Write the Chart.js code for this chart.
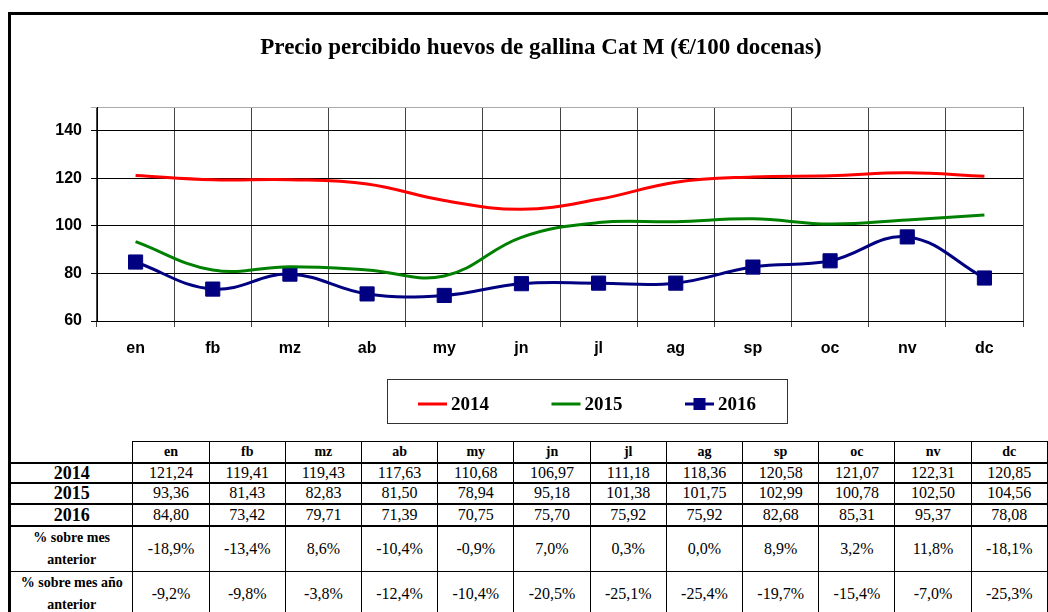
<!DOCTYPE html>
<html>
<head>
<meta charset="utf-8">
<script src="https://cdn.jsdelivr.net/npm/chart.js@4/dist/chart.umd.min.js"></script>
<style>
  body { margin: 0; width: 1048px; height: 612px; overflow: hidden; background: #fff; position: relative; }
  #frame { position: absolute; left: 8px; top: 12px; width: 1100px; height: 700px; border: 3px solid #000; }
  #wrap { position: absolute; left: 0; top: 0; width: 1048px; height: 440px; }
  #tabla { position: absolute; left: 10px; top: 441px; border-collapse: collapse; table-layout: fixed;
           font-family: "Liberation Serif", "Times New Roman", serif; color: #000; }
  #tabla td { border: 1px solid #000; text-align: center; padding: 0; font-size: 16px; line-height: 16px; }
  #tabla td.head { font-weight: bold; font-size: 14px; }
  #tabla td.lab { font-weight: bold; font-size: 18px; }
  #tabla td.lab2 { font-weight: bold; font-size: 14px; line-height: 22px; }
  #tabla td.blank { border-top: none; border-left: none; }
  #tabla tr.thick td { border-top: 2px solid #000; }
</style>
</head>
<body>
<div id="frame"></div>
<div id="wrap"><canvas id="grafico" width="1048" height="440"></canvas></div>
<table id="tabla"></table>
<script>
// Datos del gráfico
const meses = ['en', 'fb', 'mz', 'ab', 'my', 'jn', 'jl', 'ag', 'sp', 'oc', 'nv', 'dc'];
const precios2014 = [121.24, 119.41, 119.43, 117.63, 110.68, 106.97, 111.18, 118.36, 120.58, 121.07, 122.31, 120.85];
const precios2015 = [93.36, 81.43, 82.83, 81.50, 78.94, 95.18, 101.38, 101.75, 102.99, 100.78, 102.50, 104.56];
const precios2016 = [84.80, 73.42, 79.71, 71.39, 70.75, 75.70, 75.92, 75.92, 82.68, 85.31, 95.37, 78.08];
const pctMesAnterior = [-18.9, -13.4, 8.6, -10.4, -0.9, 7.0, 0.3, 0.0, 8.9, 3.2, 11.8, -18.1];
const pctAnyoAnterior = [-9.2, -9.8, -3.8, -12.4, -10.4, -20.5, -25.1, -25.4, -19.7, -15.4, -7.0, -25.3];
const tituloGrafico = 'Precio percibido huevos de gallina Cat M (€/100 docenas)';

// Título y leyenda con recuadro, dibujados a mano
const extrasPlugin = {
    id: 'extras',
    afterDraw(chart) {
        const ctx = chart.ctx;
        ctx.save();
        ctx.fillStyle = '#000';
        ctx.font = 'bold 23px "Liberation Serif"';
        ctx.textAlign = 'center';
        ctx.textBaseline = 'middle';
        ctx.fillText(tituloGrafico, 541, 48);

        // recuadro de la leyenda
        ctx.strokeStyle = '#333';
        ctx.lineWidth = 1;
        ctx.strokeRect(387.5, 379.5, 400, 44);
        ctx.textAlign = 'left';
        ctx.font = 'bold 19px "Liberation Serif"';
        chart.data.datasets.forEach((ds, i) => {
            const x0 = 418 + i * 133.5;
            const y = 404;
            ctx.strokeStyle = ds.borderColor;
            ctx.lineWidth = 3;
            ctx.beginPath();
            ctx.moveTo(x0, y);
            ctx.lineTo(x0 + 29, y);
            ctx.stroke();
            if (ds.pointStyle === 'rect') {
                ctx.fillStyle = ds.pointBackgroundColor;
                ctx.fillRect(x0 + 8.5, y - 6, 12, 12);
            }
            ctx.fillStyle = '#000';
            ctx.fillText(ds.label, x0 + 33, y + 1);
        });
        ctx.restore();
    }
};

const ctx = document.getElementById('grafico').getContext('2d');
const grafico = new Chart(ctx, {
    type: 'line',
    data: {
        labels: meses,
        datasets: [
            { label: '2014', data: precios2014, borderColor: '#ff0000', borderWidth: 3, pointRadius: 0, tension: 0.4 },
            { label: '2015', data: precios2015, borderColor: '#008000', borderWidth: 3, pointRadius: 0, tension: 0.4 },
            { label: '2016', data: precios2016, borderColor: '#000080', borderWidth: 3, tension: 0.4,
              pointStyle: 'rect', pointRadius: 10, pointBackgroundColor: '#000080', pointBorderColor: '#000080', pointBorderWidth: 1 }
        ]
    },
    options: {
        responsive: false,
        animation: false,
        layout: { padding: { top: 107, left: 0, right: 25, bottom: 79 } },
        plugins: { legend: { display: false }, title: { display: false }, tooltip: { enabled: false } },
        scales: {
            x: {
                offset: true,
                afterFit: s => { s.height = 40; },
                grid: { offset: true, color: c => c.index === 12 ? '#999' : '#444', lineWidth: 1, tickLength: 6 },
                border: { color: '#000', width: 1 },
                ticks: { color: '#000', padding: 12, font: { family: '"Liberation Sans"', size: 16, weight: 'bold' } }
            },
            y: {
                min: 60,
                max: 150,
                afterFit: s => { s.width = 97; },
                ticks: {
                    stepSize: 20,
                    color: '#000',
                    padding: 9,
                    font: { family: '"Liberation Sans"', size: 16, weight: 'bold' },
                    callback: v => v === 150 ? '' : v
                },
                grid: { color: c => c.tick && c.tick.value === 150 ? '#aaa' : '#000', lineWidth: 1, tickLength: 6 },
                border: { color: '#000', width: 1 }
            }
        }
    },
    plugins: [extrasPlugin]
});

// Tabla de datos bajo el gráfico
function fmt(v, dec) { return v.toFixed(dec).replace('.', ','); }
function buildTable() {
    const t = document.getElementById('tabla');
    let html = '<colgroup><col style="width:125px">';
    meses.forEach(() => { html += '<col style="width:77.25px">'; });
    html += '</colgroup>';
    html += '<tr style="height:21px"><td class="blank"></td>' + meses.map(m => `<td class="head">${m}</td>`).join('') + '</tr>';
    const filas = [['2014', precios2014, 20], ['2015', precios2015, 21], ['2016', precios2016, 22]];
    filas.forEach(([lab, arr, h]) => {
        html += `<tr class="thick" style="height:${h}px"><td class="lab">${lab}</td>` + arr.map(v => `<td>${fmt(v, 2)}</td>`).join('') + '</tr>';
    });
    html += '<tr class="thick" style="height:43px"><td class="lab2">% sobre mes<br>anterior</td>' + pctMesAnterior.map(v => `<td>${fmt(v, 1)}%</td>`).join('') + '</tr>';
    html += '<tr style="height:44px"><td class="lab2">% sobre mes año<br>anterior</td>' + pctAnyoAnterior.map(v => `<td>${fmt(v, 1)}%</td>`).join('') + '</tr>';
    t.innerHTML = html;
}
buildTable();
</script>
</body>
</html>
